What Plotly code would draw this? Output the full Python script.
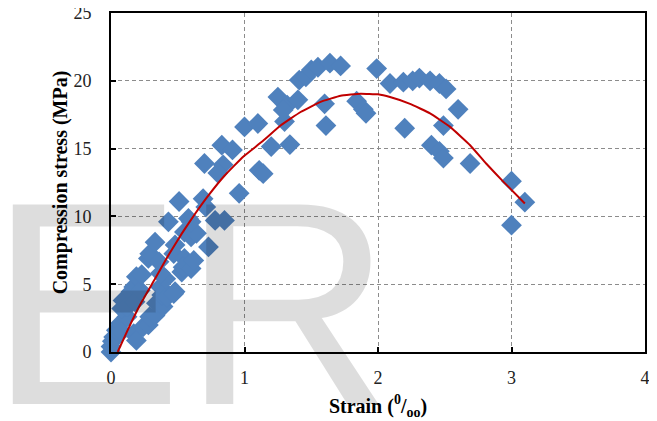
import plotly.graph_objects as go

# Measured data (strain in per mille, stress in MPa)
strain = [0.00, 0.00, 0.01, 0.02, 0.04, 0.07, 0.08, 0.12, 0.08, 0.09, 0.12, 0.15, 0.17, 0.18,
          0.17, 0.19, 0.19, 0.22, 0.23, 0.24, 0.28, 0.29, 0.33, 0.34, 0.39, 0.37, 0.38, 0.42,
          0.48, 0.47, 0.41, 0.37, 0.28, 0.29, 0.36, 0.33, 0.47, 0.48, 0.55, 0.53, 0.54, 0.60,
          0.62, 0.55, 0.60, 0.64, 0.73, 0.43, 0.58, 0.60, 0.78, 0.85, 0.51, 0.69, 0.71, 0.96,
          0.70, 0.84, 0.80, 0.83, 0.91, 1.00, 1.10, 1.11, 1.14, 1.20, 1.34, 1.25, 1.32, 1.40,
          1.30, 1.29, 1.41, 1.46, 1.50, 1.55, 1.64, 1.72, 1.60, 1.61, 1.84, 1.89, 1.91, 1.99,
          2.09, 2.19, 2.26, 2.31, 2.39, 2.46, 2.51, 2.60, 2.20, 2.49, 2.40, 2.46, 2.49, 2.69,
          3.00, 3.10, 3.00]
stress = [0.0, 0.4, 0.8, 1.1, 1.6, 2.1, 1.5, 2.6, 3.2, 3.8, 3.3, 4.45, 4.8, 3.7,
          1.35, 0.85, 5.55, 4.55, 5.7, 1.85, 2.0, 2.6, 2.7, 3.6, 3.35, 4.8, 4.2, 4.05,
          4.45, 4.3, 5.4, 5.8, 6.9, 7.25, 6.65, 8.1, 7.25, 7.9, 6.9, 5.9, 6.25, 6.15,
          6.75, 8.85, 8.5, 8.75, 7.75, 9.6, 9.85, 9.6, 9.7, 9.7, 11.1, 11.3, 10.7, 11.7,
          13.9, 13.8, 13.2, 15.25, 14.9, 16.6, 16.85, 13.4, 13.15, 15.15, 15.3, 18.8, 18.2, 18.6,
          17.0, 17.85, 20.05, 20.3, 20.8, 21.0, 21.3, 21.1, 18.3, 16.7, 18.5, 17.9, 17.6, 20.9,
          19.8, 19.9, 20.0, 20.2, 20.0, 19.8, 19.4, 17.9, 16.5, 16.7, 15.25, 14.8, 14.3, 13.9,
          12.6, 11.05, 9.35]

# Fitted curve
curve_strain = [0.05, 0.13, 0.23, 0.33, 0.43, 0.53, 0.63, 0.73, 0.85, 0.99, 1.13, 1.27, 1.42,
                1.57, 1.72, 1.87, 2.00, 2.09, 2.24, 2.39, 2.54, 2.69, 2.81, 2.94, 3.10]
curve_stress = [0.0, 1.73, 3.7, 5.4, 7.13, 8.73, 10.2, 11.55, 13.0, 14.4, 15.5, 16.7, 17.7,
                18.45, 18.9, 19.05, 19.0, 18.8, 18.3, 17.6, 16.6, 15.25, 13.9, 12.55, 10.95]

x_ticks = [0, 1, 2, 3, 4]
y_ticks = [0, 5, 10, 15, 20, 25]

serif = "Liberation Serif, Times New Roman, serif"

fig = go.Figure()
fig.add_trace(go.Scatter(
    x=strain, y=stress, mode="markers",
    marker=dict(symbol="diamond", size=16, color="#4F81BD", line=dict(width=0)),
    showlegend=False, cliponaxis=False,
))
fig.add_trace(go.Scatter(
    x=curve_strain, y=curve_stress, mode="lines",
    line=dict(color="#C00000", width=2, shape="spline", smoothing=0.3),
    showlegend=False,
))

axis_common = dict(
    showline=True, linecolor="black", linewidth=2, mirror=True,
    ticks="inside", ticklen=5, tickwidth=2, tickcolor="black",
    showgrid=True, gridcolor="#8c8c8c", gridwidth=1, griddash="4px,3px",
    zeroline=False, automargin=False, ticklabeloverflow="allow",
    tickfont=dict(family=serif, size=18, color="#222"),
)

fig.update_xaxes(range=[0, 4], tickvals=x_ticks, ticktext=[str(v) for v in x_ticks],
                 ticklabelstandoff=8,
                 title=dict(text="<b>Strain (<sup>0</sup>/<sub>oo</sub>)</b>",
                            font=dict(family=serif, size=20, color="black"), standoff=12),
                 **axis_common)
fig.update_yaxes(range=[0, 25], tickvals=y_ticks, ticktext=[str(v) for v in y_ticks],
                 ticklabelstandoff=14,
                 title=dict(text="<b>Compression stress (MPa)</b>",
                            font=dict(family=serif, size=20, color="black"), standoff=0),
                 **axis_common)

fig.add_annotation(
    text="ER", xref="paper", yref="paper", x=0.148, y=0.1445,
    xanchor="center", yanchor="middle", showarrow=False,
    font=dict(family="Liberation Sans, Arial, sans-serif", size=290, color="rgba(0,0,0,0.135)"),
)

# The page body adds an 8 px offset, so the figure is shifted accordingly
fig.update_layout(
    width=649, height=413,
    margin=dict(l=103, r=12, t=5, b=69),
    paper_bgcolor="white", plot_bgcolor="white",
)

fig.write_html("out.html")
